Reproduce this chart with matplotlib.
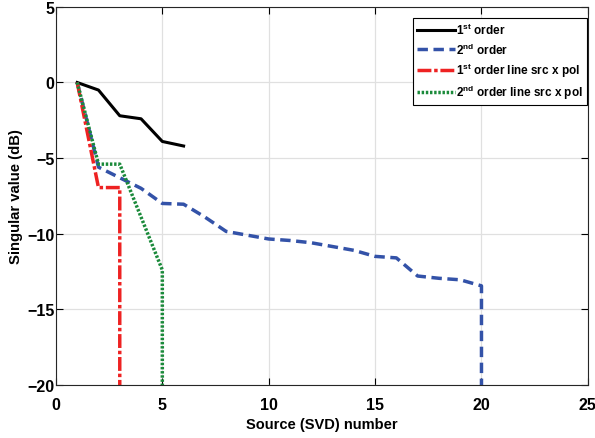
import numpy as np
import matplotlib
matplotlib.use('Agg')
import matplotlib.pyplot as plt

plt.rcParams['font.family'] = 'Liberation Sans'
plt.rcParams['font.weight'] = 'bold'
plt.rcParams['mathtext.fontset'] = 'custom'
plt.rcParams['mathtext.rm'] = 'Liberation Sans:bold'
plt.rcParams['mathtext.bf'] = 'Liberation Sans:bold'

# singular values (dB); -300 stands for numerically zero values (off the chart)
first_x = [1, 2, 3, 4, 5, 6]
first_y = [0, -0.5, -2.2, -2.4, -3.9, -4.2]

second_x = list(range(1, 21)) + [20]
second_y = [0, -5.6, -6.3, -7.0, -8.0, -8.05, -8.9, -9.85, -10.1, -10.35, -10.45,
            -10.6, -10.85, -11.1, -11.5, -11.6, -12.8, -12.95, -13.05, -13.45, -300]

first_line_x = [1, 2, 3, 3]
first_line_y = [0, -6.95, -6.95, -300]

second_line_x = [1, 2, 3, 4, 5, 5]
second_line_y = [0, -5.4, -5.4, -8.9, -12.4, -300]

labels = [r'1$^{\mathbf{st}}$ order', r'2$^{\mathbf{nd}}$ order',
          r'1$^{\mathbf{st}}$ order line src x pol', r'2$^{\mathbf{nd}}$ order line src x pol']

fig = plt.figure(figsize=(5.95, 4.39), dpi=100)
ax = fig.add_axes([0.094, 0.121, 0.894, 0.861])

ax.plot(first_x, first_y, '-', color='black', lw=2.2, label=labels[0])
ax.plot(second_x, second_y, '--', color='#3352a8', lw=2.5, dashes=(3, 1.6), label=labels[1])
ax.plot(first_line_x, first_line_y, '-.', color='#ee2222', lw=2.5, dashes=(4, 0.8, 1, 0.8), label=labels[2])
ax.plot(second_line_x, second_line_y, ':', color='#1a8a3a', lw=2.5, dashes=(0.7, 0.5), label=labels[3])

ax.set_xlim(0, 25)
ax.set_ylim(-20, 5)
ax.set_xticks(range(0, 26, 5))
ax.set_yticks(range(-20, 6, 5))
ax.grid(True, color='#e0e0e0', lw=0.9)
ax.set_axisbelow(True)
ax.tick_params(direction='in', top=True, right=True, labelsize=11.5, length=5, width=0.8)
ax.tick_params(axis='x', pad=8.5)
ax.tick_params(axis='y', pad=1)
for s in ax.spines.values():
    s.set_linewidth(0.8)
    s.set_color('#262626')

ax.set_xlabel('Source (SVD) number', fontsize=10.5, fontweight='bold', labelpad=4)
ax.set_ylabel('Singular value (dB)', fontsize=10.7, fontweight='bold', labelpad=3)

leg = ax.legend(loc='upper right', bbox_to_anchor=(0.998, 0.971), fontsize=8.5, frameon=True, fancybox=False,
                edgecolor='black', framealpha=1, handlelength=3.2, handletextpad=0.1,
                borderpad=0.35, labelspacing=0.35, borderaxespad=0)
leg.get_frame().set_linewidth(0.8)

fig.savefig('out.png', dpi=100)
